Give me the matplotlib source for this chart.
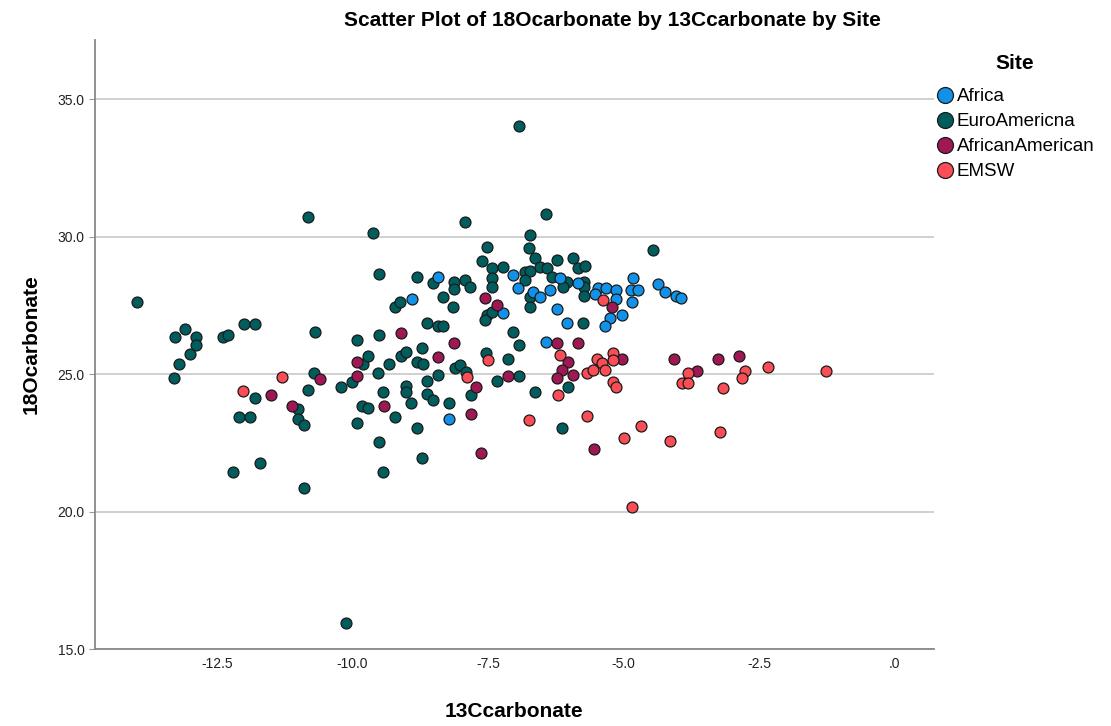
import matplotlib
matplotlib.use("Agg")
from matplotlib import pyplot as plt
from matplotlib.lines import Line2D

plt.rcParams["font.family"] = ["Liberation Sans", "DejaVu Sans"]

sites = ["Africa", "EuroAmericna", "AfricanAmerican", "EMSW"]
site_colors = ["#1192e8", "#005d5d", "#9f1853", "#fa4d56"]

# 13C carbonate (x) / 18O carbonate (y) per site
euro_x = [-13.97, -13.29, -13.27, -13.20, -13.09, -13.00, -12.89, -12.89, -12.39, -12.30,
          -12.00, -11.80, -12.20, -12.09, -11.89, -11.80, -11.71, -11.01, -11.01, -10.90,
          -10.90, -10.82, -10.71, -10.69, -10.82, -10.21, -10.12, -10.01, -9.92, -9.92,
          -9.81, -9.72, -9.83, -9.72, -9.62, -9.51, -9.51, -9.53, -9.44, -9.51,
          -9.44, -9.33, -9.22, -9.13, -9.22, -9.11, -9.02, -9.02, -9.02, -8.92,
          -8.81, -8.81, -8.72, -8.70, -8.81, -8.72, -8.63, -8.63, -8.63, -8.52,
          -8.43, -8.33, -8.43, -8.52, -8.33, -8.22, -8.15, -8.13, -8.13, -7.93,
          -7.84, -7.93, -8.11, -8.02, -7.91, -7.82, -7.61, -7.52, -7.54, -7.43,
          -7.23, -7.43, -7.43, -7.52, -7.56, -7.43, -7.34, -7.13, -7.04, -6.93,
          -6.93, -6.93, -6.82, -6.73, -6.82, -6.73, -6.75, -6.73, -6.73, -6.64,
          -6.64, -6.55, -6.42, -6.32, -6.43, -6.23, -6.14, -6.05, -6.12, -6.03,
          -5.94, -5.84, -5.72, -5.73, -5.73, -5.73, -5.75, -4.46]
euro_y = [27.62, 24.85, 26.35, 25.36, 26.64, 25.73, 26.35, 26.05, 26.35, 26.42,
          26.82, 26.82, 21.44, 23.44, 23.44, 24.13, 21.76, 23.73, 23.36, 23.15,
          20.85, 24.42, 25.04, 26.53, 30.71, 24.53, 15.95, 24.71, 26.24, 23.22,
          25.36, 25.65, 23.84, 23.76, 30.13, 28.64, 26.42, 25.04, 24.35, 22.53,
          21.44, 25.36, 27.44, 27.62, 23.44, 25.65, 25.80, 24.56, 24.35, 23.95,
          28.53, 25.44, 25.95, 25.36, 23.04, 21.95, 26.85, 24.75, 24.27, 24.05,
          26.75, 26.75, 24.96, 28.31, 27.80, 23.95, 27.44, 28.35, 28.09, 28.42,
          28.16, 30.53, 25.22, 25.33, 25.07, 24.24, 29.11, 29.62, 25.76, 28.85,
          28.89, 28.49, 28.16, 27.15, 26.96, 27.25, 24.75, 25.55, 26.53, 26.05,
          24.93, 34.02, 28.71, 28.75, 28.42, 30.05, 29.58, 27.80, 27.44, 29.22,
          24.35, 28.89, 28.85, 28.53, 30.82, 29.15, 23.04, 28.35, 28.16, 24.53,
          29.22, 28.85, 28.93, 28.35, 28.16, 27.84, 26.85, 29.51]

africa_x = [-8.90, -8.43, -8.22, -7.23, -7.04, -6.95, -6.67, -6.55, -6.36, -6.18,
            -6.23, -6.05, -6.43, -5.84, -5.48, -5.33, -5.53, -5.14, -5.14, -5.03,
            -5.25, -5.35, -4.83, -4.87, -4.74, -4.85, -4.37, -4.24, -4.04, -3.95]
africa_y = [27.73, 28.53, 23.36, 27.22, 28.60, 28.13, 27.98, 27.80, 28.05, 28.49,
            27.36, 26.85, 26.16, 28.31, 28.13, 28.13, 27.91, 28.05, 27.73, 27.15,
            27.04, 26.75, 28.49, 28.05, 28.05, 27.62, 28.27, 27.98, 27.84, 27.76]

afam_x = [-11.50, -11.12, -10.60, -9.92, -9.92, -9.42, -9.11, -8.43, -8.13, -7.72,
          -7.82, -7.63, -7.56, -7.34, -7.13, -6.23, -5.84, -6.03, -6.14, -6.23,
          -5.94, -5.55, -5.22, -5.03, -4.07, -3.65, -3.26, -2.88]
afam_y = [24.24, 23.84, 24.82, 25.44, 24.93, 23.84, 26.49, 25.62, 26.13, 24.53,
          23.55, 22.13, 27.76, 27.51, 24.93, 26.13, 26.13, 25.44, 25.15, 24.85,
          24.96, 22.27, 27.44, 25.55, 25.55, 25.11, 25.55, 25.65]

emsw_x = [-12.02, -11.30, -7.89, -7.50, -6.75, -6.18, -6.21, -5.68, -5.57, -5.49,
          -5.40, -5.35, -5.20, -5.20, -5.20, -5.14, -5.68, -5.00, -4.68, -4.15,
          -4.85, -5.38, -3.82, -3.93, -3.82, -2.77, -2.82, -3.17, -2.34, -1.27,
          -3.23]
emsw_y = [24.38, 24.89, 24.89, 25.51, 23.33, 25.69, 24.24, 25.04, 25.15, 25.55,
          25.40, 25.15, 25.76, 25.51, 24.71, 24.53, 23.47, 22.67, 23.11, 22.56,
          20.16, 27.69, 25.04, 24.67, 24.67, 25.11, 24.85, 24.49, 25.25, 25.11,
          22.89]

x_ticks = [-12.5, -10.0, -7.5, -5.0, -2.5, 0.0]
x_tick_labels = ["-12.5", "-10.0", "-7.5", "-5.0", "-2.5", ".0"]
y_ticks = [15.0, 20.0, 25.0, 30.0, 35.0]
y_tick_labels = ["15.0", "20.0", "25.0", "30.0", "35.0"]

fig = plt.figure(figsize=(11.11, 7.26), dpi=100)
ax = fig.add_axes([0.0855, 0.106, 0.755, 0.839])

mk = dict(s=62, edgecolors="#1a1a1a", linewidths=0.9, zorder=3)
ax.scatter(euro_x, euro_y, c=site_colors[1], **mk)
ax.scatter(africa_x, africa_y, c=site_colors[0], **mk)
ax.scatter(afam_x, afam_y, c=site_colors[2], **mk)
ax.scatter(emsw_x, emsw_y, c=site_colors[3], **mk)

ax.set_xlim(-14.75, 0.72)
ax.set_ylim(15.0, 37.15)
ax.set_xticks(x_ticks)
ax.set_xticklabels(x_tick_labels)
ax.set_yticks(y_ticks)
ax.set_yticklabels(y_tick_labels)
ax.tick_params(axis="both", labelsize=10, colors="#222222", length=4, width=0.8)
ax.tick_params(axis="x", length=0, pad=6)
ax.tick_params(axis="y", color="#999999")
ax.yaxis.grid(True, color="#c4c4c4", linewidth=1.1, zorder=0)
ax.set_axisbelow(True)
for side in ["top", "right"]:
    ax.spines[side].set_visible(False)
for side in ["left", "bottom"]:
    ax.spines[side].set_color("#888888")
    ax.spines[side].set_linewidth(1.3)

ax.set_xlabel("13Ccarbonate", fontsize=15, fontweight="bold", labelpad=22)
ax.set_ylabel("18Ocarbonate", fontsize=15, fontweight="bold", labelpad=12)
fig.text(0.551, 0.972, "Scatter Plot of 18Ocarbonate by 13Ccarbonate by Site",
         ha="center", va="center", fontsize=15, fontweight="bold")

handles = [Line2D([], [], linestyle="none", marker="o", markersize=11.5,
                  markerfacecolor=c, markeredgecolor="#1a1a1a", markeredgewidth=0.9)
           for c in site_colors]
leg = fig.legend(handles, sites, loc="upper left", bbox_to_anchor=(0.835, 0.936),
                 frameon=False, fontsize=13.5, handletextpad=0.15, labelspacing=0.42,
                 handlelength=1.0, borderaxespad=0, title="Site",
                 title_fontproperties={"weight": "bold", "size": 15})
leg._legend_box.sep = 11

fig.savefig("out.png", dpi=100)
